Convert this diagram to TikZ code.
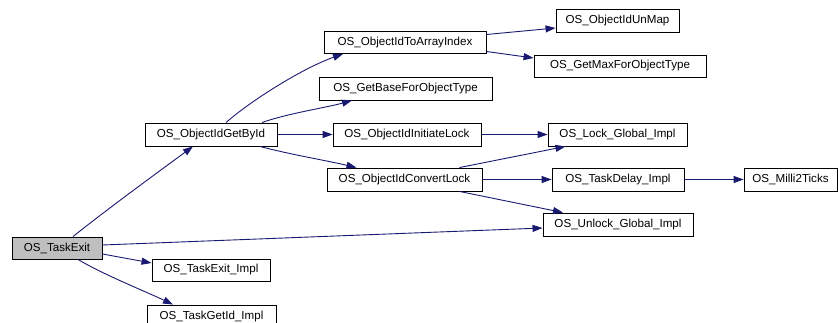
\documentclass[tikz,border=0pt]{standalone}
\usepackage{fontspec}
\setmainfont{Liberation Sans}
\usetikzlibrary{arrows.meta}
\definecolor{edgeblue}{HTML}{191970}
\definecolor{rootgray}{HTML}{BFBFBF}
\tikzset{
  fn/.style={draw=black, line width=0.9pt, fill=white, rectangle, inner sep=0pt,
    minimum height=23pt, font=\fontsize{11.6}{13}\selectfont, text=black},
  callarrow/.style={draw=edgeblue, line width=0.9pt,
    -{Triangle[length=10pt,width=7pt]}, color=edgeblue},
}
\begin{document}
\begin{tikzpicture}[x=1pt,y=-1pt]
\useasboundingbox (0,0) rectangle (838,323);
% nodes
\node[fn, fill=rootgray, minimum width=90pt, minimum height=22pt] (te) at (57,248) {OS\_TaskExit};
\node[fn, minimum width=118pt, minimum height=22pt] (tei) at (211,270) {OS\_TaskExit\_Impl};
\node[fn, minimum width=129pt] (tgi) at (211.5,316.5) {OS\_TaskGetId\_Impl};
\node[fn, minimum width=132pt] (gb) at (211,134.5) {OS\_ObjectIdGetById};
\node[fn, minimum width=162pt, minimum height=22pt] (tai) at (405,42.5) {OS\_ObjectIdToArrayIndex};
\node[fn, minimum width=173pt] (gbase) at (405.5,88.5) {OS\_GetBaseForObjectType};
\node[fn, minimum width=148pt] (il) at (407,134.5) {OS\_ObjectIdInitiateLock};
\node[fn, minimum width=155pt] (cl) at (404.5,179.5) {OS\_ObjectIdConvertLock};
\node[fn, minimum width=123pt] (um) at (617.5,20.5) {OS\_ObjectIdUnMap};
\node[fn, minimum width=172pt, minimum height=22pt] (gm) at (620,66) {OS\_GetMaxForObjectType};
\node[fn, minimum width=139pt] (lk) at (617.5,134.5) {OS\_Lock\_Global\_Impl};
\node[fn, minimum width=132pt] (td) at (618,179.5) {OS\_TaskDelay\_Impl};
\node[fn, minimum width=93pt] (mt) at (790.5,179.5) {OS\_Milli2Ticks};
\node[fn, minimum width=150pt] (ul) at (618,224.5) {OS\_Unlock\_Global\_Impl};
% edges
\draw[callarrow] ([xshift=16pt]te.north) .. controls +(35,-28) and +(-30,22) .. ([xshift=-18pt]gb.south);
\draw[callarrow] ([yshift=3pt]te.east) -- ([yshift=-3.5pt]ul.west);
\draw[callarrow] ([yshift=-6pt]te.east) -- ([yshift=7pt]tei.west);
\draw[callarrow] ([xshift=21pt]te.south) .. controls +(25,15) and +(-25,-12) .. ([xshift=-38.5pt]tgi.north);
\draw[callarrow] ([xshift=15pt]gb.north) .. controls +(25,-22) and +(-40,14) .. ([xshift=-62pt]tai.south);
\draw[callarrow] ([xshift=51pt]gb.north) .. controls +(25,-9) and +(-25,7) .. ([xshift=-53.5pt]gbase.south);
\draw[callarrow] (gb.east) -- (il.west);
\draw[callarrow] ([xshift=49pt]gb.south) .. controls +(30,8) and +(-30,-7) .. ([xshift=-48pt]cl.north);
\draw[callarrow] ([yshift=8pt]tai.east) -- ([yshift=-7.5pt]um.west);
\draw[callarrow] ([yshift=-9pt]tai.east) -- ([yshift=8pt]gm.west);
\draw[callarrow] (il.east) -- (lk.west);
\draw[callarrow] ([xshift=55pt]cl.north) -- ([xshift=-52pt]lk.south);
\draw[callarrow] (cl.east) -- (td.west);
\draw[callarrow] ([xshift=55pt]cl.south) -- ([xshift=-55pt]ul.north);
\draw[callarrow] (td.east) -- (mt.west);
\end{tikzpicture}
\end{document}
